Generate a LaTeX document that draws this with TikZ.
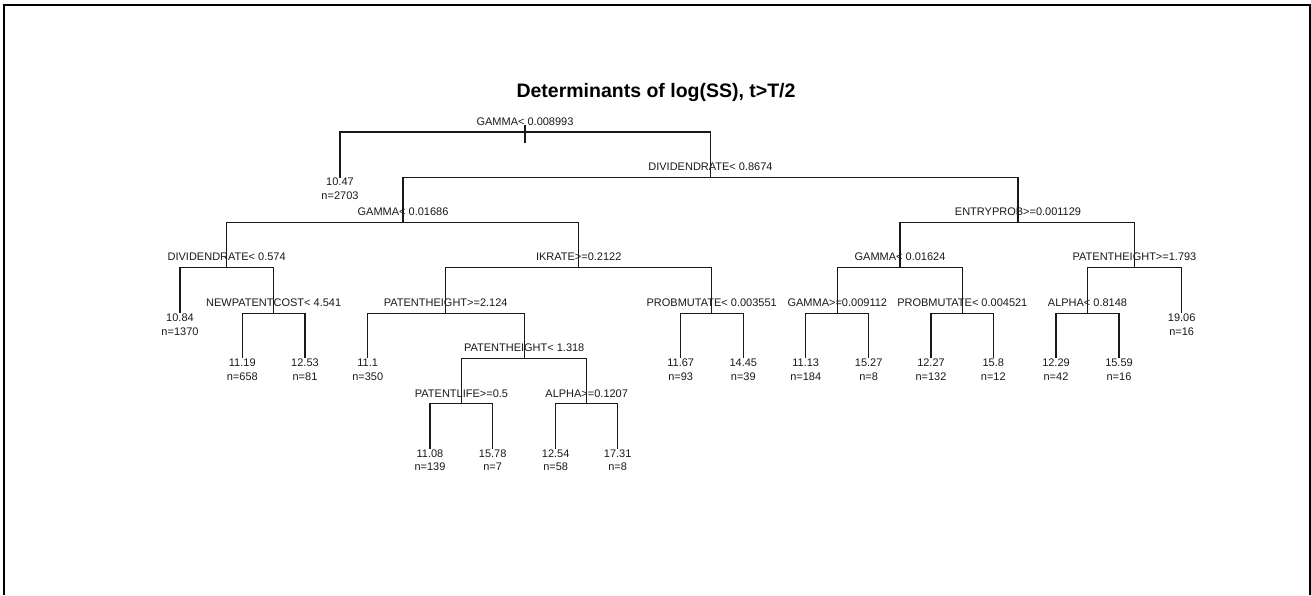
\documentclass[tikz,border=0pt]{standalone}
\usepackage{fontspec}
\setmainfont{Liberation Sans}
\newcommand{\splitat}[4]{\coordinate (#1) at (#2,#3); \node[splitlab] (#1-l) at (#2,#3-6.6) {#4};}
\newcommand{\leafat}[5]{\coordinate (#1) at (#2,#3); \node[leaflab] (#1-v) at (#2,#3+8.4) {#4}; \node[leaflab] (#1-n) at (#2,#3+22.2) {n=#5};}
\begin{document}
\begin{tikzpicture}[x=1pt,y=-1pt,
  edge/.style={line width=1.1pt,draw=black!90},
  splitlab/.style={font=\fontsize{11}{13}\selectfont,inner sep=0pt,anchor=base,text=black!90},
  leaflab/.style={font=\fontsize{11}{13}\selectfont,inner sep=0pt,anchor=base,text=black!90},
]
\useasboundingbox (0,0) rectangle (1311,595);
\draw[line width=2pt] (3.7,595) -- (3.7,5.3) -- (1309.5,5.3) -- (1309.5,595);
\node[font=\fontsize{19.5}{22}\selectfont\bfseries,anchor=base,inner sep=0pt] (title) at (656,97) {Determinants of log(SS), t>T/2};

% splits
\splitat{r}{525}{132}{GAMMA< 0.008993}
\splitat{d1}{710.5}{177.5}{DIVIDENDRATE< 0.8674}
\splitat{g1}{403}{222.5}{GAMMA< 0.01686}
\splitat{e1}{1018}{222.5}{ENTRYPROB>=0.001129}
\splitat{d2}{226.7}{267.5}{DIVIDENDRATE< 0.574}
\splitat{ik}{578.7}{267.5}{IKRATE>=0.2122}
\splitat{np}{273.7}{313.3}{NEWPATENTCOST< 4.541}
\splitat{ph1}{445.7}{313.3}{PATENTHEIGHT>=2.124}
\splitat{pm1}{711.7}{313.3}{PROBMUTATE< 0.003551}
\splitat{ph2}{524.2}{358.3}{PATENTHEIGHT< 1.318}
\splitat{pl}{461.5}{403.7}{PATENTLIFE>=0.5}
\splitat{al1}{586.7}{403.7}{ALPHA>=0.1207}
\splitat{g2}{900}{267.5}{GAMMA< 0.01624}
\splitat{ph3}{1134.5}{267.5}{PATENTHEIGHT>=1.793}
\splitat{g3}{837.3}{313.3}{GAMMA>=0.009112}
\splitat{pm2}{962.3}{313.3}{PROBMUTATE< 0.004521}
\splitat{al2}{1087.5}{313.3}{ALPHA< 0.8148}

% leaves
\leafat{l1}{340}{177.5}{10.47}{2703}
\leafat{l2}{180}{313.3}{10.84}{1370}
\leafat{l3}{242.3}{358.3}{11.19}{658}
\leafat{l4}{305}{358.3}{12.53}{81}
\leafat{l5}{367.7}{358.3}{11.1}{350}
\leafat{l6}{430}{448.7}{11.08}{139}
\leafat{l7}{492.7}{448.7}{15.78}{7}
\leafat{l8}{555.7}{448.7}{12.54}{58}
\leafat{l9}{617.7}{448.7}{17.31}{8}
\leafat{l10}{680.7}{358.3}{11.67}{93}
\leafat{l11}{743.3}{358.3}{14.45}{39}
\leafat{l12}{805.7}{358.3}{11.13}{184}
\leafat{l13}{868.7}{358.3}{15.27}{8}
\leafat{l14}{931}{358.3}{12.27}{132}
\leafat{l15}{993.3}{358.3}{15.8}{12}
\leafat{l16}{1056}{358.3}{12.29}{42}
\leafat{l17}{1119}{358.3}{15.59}{16}
\leafat{l18}{1181.7}{313.3}{19.06}{16}

% root stem
\coordinate (stemtop) at (525,125);
\coordinate (stembot) at (525,143);
\draw[edge] (stemtop) -- (stembot);

% edges
\draw[edge] (r) -| (l1);  \draw[edge] (r) -| (d1);
\draw[edge] (d1) -| (g1); \draw[edge] (d1) -| (e1);
\draw[edge] (g1) -| (d2); \draw[edge] (g1) -| (ik);
\draw[edge] (d2) -| (l2); \draw[edge] (d2) -| (np);
\draw[edge] (np) -| (l3); \draw[edge] (np) -| (l4);
\draw[edge] (ik) -| (ph1); \draw[edge] (ik) -| (pm1);
\draw[edge] (ph1) -| (l5); \draw[edge] (ph1) -| (ph2);
\draw[edge] (ph2) -| (pl); \draw[edge] (ph2) -| (al1);
\draw[edge] (pl) -| (l6); \draw[edge] (pl) -| (l7);
\draw[edge] (al1) -| (l8); \draw[edge] (al1) -| (l9);
\draw[edge] (pm1) -| (l10); \draw[edge] (pm1) -| (l11);
\draw[edge] (e1) -| (g2); \draw[edge] (e1) -| (ph3);
\draw[edge] (g2) -| (g3); \draw[edge] (g2) -| (pm2);
\draw[edge] (g3) -| (l12); \draw[edge] (g3) -| (l13);
\draw[edge] (pm2) -| (l14); \draw[edge] (pm2) -| (l15);
\draw[edge] (ph3) -| (al2); \draw[edge] (ph3) -| (l18);
\draw[edge] (al2) -| (l16); \draw[edge] (al2) -| (l17);
\end{tikzpicture}
\end{document}
